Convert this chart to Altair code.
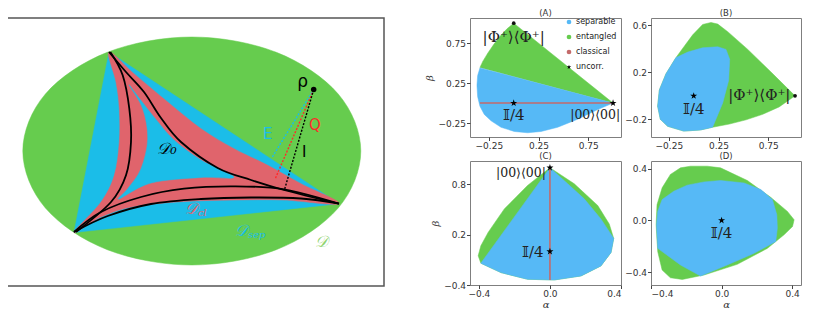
import altair as alt
import pandas as pd

# ---------------- colours ----------------
SEP = "#56b9f6"
ENT = "#66cc4e"
CLS = "#c46a6a"
L_GREEN = "#66cc4e"
L_BLUE = "#1bbde8"
L_RED = "#e0646c"

STAR = "M0,-1L0.2245,-0.309L0.951,-0.309L0.363,0.118L0.588,0.809L0,0.382L-0.588,0.809L-0.363,0.118L-0.951,-0.309L-0.2245,-0.309Z"

# ---------------- left schematic (drawing units) ----------------
ell_x = [359.8, 337.2, 275.3, 190.8, 106.3, 44.4, 21.8, 44.4, 106.3, 190.8, 275.3, 337.2]
ell_y = [149, 92, 50.3, 35, 50.3, 92, 149, 206, 247.7, 263, 247.7, 206]
tri_x = [108, 73, 338]
tri_y = [50, 230.5, 201.7]
cl_x = [108, 133, 166.7, 200, 233, 266.7, 300, 338, 283, 233, 183, 133, 100, 73, 100, 113.3, 118.3, 118.3, 115]
cl_y = [50, 71.7, 100, 126.7, 146.7, 163.3, 181.7, 201.7, 198, 198, 199.5, 204.5, 215, 230.5, 200, 173.3, 140, 106.7, 80]
in_x = [128.3, 141.7, 146.7, 140, 126.7, 118, 150, 200, 233, 200, 173, 153, 135]
in_y = [83.3, 106.7, 136.7, 166.7, 186.7, 197, 181, 175.5, 175, 158, 138, 115, 92]
top_curve_x = [108, 125, 143, 160, 180, 216.7, 250, 283, 338]
top_curve_y = [50, 70, 90, 116, 140, 166, 178, 188, 201.7]
left_curve_x = [109.3, 121.7, 128.3, 130, 125, 110, 75]
left_curve_y = [50, 73.3, 106.7, 140, 173.3, 200, 230]
bot1_x = [73, 100, 140, 183, 233, 283, 338]
bot1_y = [230, 210, 195, 186.7, 184.3, 187.3, 201.7]
bot2_x = [73, 106.7, 150, 200, 250, 300, 338]
bot2_y = [230, 214, 202, 197, 195.5, 196.5, 201.7]
rho = (312.7, 87.5)
dash_names = ["E", "Q", "I"]
dash_end_x = [270.7, 274, 283.3]
dash_end_y = [156, 177.3, 188.3]
dash_colors = [L_BLUE, "#ff2a2a", "#000000"]
stxt = ["ρ", "E", "Q", "I"]
stxt_x = [301.7, 266.7, 314, 303.3]
stxt_y = [80, 131.7, 123.3, 150]
stxt_c = ["#000000", L_BLUE, "#ff2a2a", "#000000"]
stxt_s = [17, 15, 15, 15]
ltxt = ["𝒟₀", "𝒟", "𝒟", "𝒟"]
ltxt_x = [166, 190, 240, 320]
ltxt_y = [146.7, 207, 229, 240]
ltxt_c = ["#000000", L_RED, L_BLUE, "#8fd46f"]
lsub = ["cl", "sep"]
lsub_x = [197, 247]
lsub_y = [211, 233]
lsub_c = [L_RED, L_BLUE]

# ---------------- panel A ----------------
A_green_x = [0, -0.067, -0.135, -0.20, -0.26, -0.31, -0.34, 1.0]
A_green_y = [1.0, 0.93, 0.84, 0.735, 0.627, 0.525, 0.445, 0.0]
A_blue_x = [-0.34, -0.363, -0.37, -0.363, -0.34, -0.296, -0.228, -0.128, 0.006, 0.14, 0.275, 0.443, 0.644, 0.846, 1.0]
A_blue_y = [0.44, 0.344, 0.222, 0.08, -0.04, -0.142, -0.222, -0.303, -0.356, -0.372, -0.356, -0.303, -0.202, -0.081, 0.0]
A_cls_x = [-0.34, 1.0]
A_cls_y = [0.0, 0.0]
A_star_x = [0.0, 1.0]
A_star_y = [0.0, 0.0]
A_dot_x = [0.0]
A_dot_y = [1.0]
A_lab = ["|Φ⁺⟩⟨Φ⁺|", "𝕀/4", "|00⟩⟨00|"]
A_lab_x = [0.0, 0.0, 0.82]
A_lab_y = [0.83, -0.145, -0.145]
A_lab_s = [15, 15, 12.5]

# ---------------- panel B ----------------
B_green_x = [1.02, 0.778, 0.544, 0.342, 0.242, 0.174, 0.09, -0.01, -0.095, -0.178, -0.279, -0.346, -0.363, -0.336, -0.262, -0.1, 0.07, 0.19, 0.359, 0.527, 0.695, 0.86]
B_green_y = [0.0, 0.202, 0.395, 0.546, 0.61, 0.624, 0.607, 0.519, 0.422, 0.326, 0.188, 0.05, -0.088, -0.199, -0.259, -0.30, -0.29, -0.267, -0.24, -0.204, -0.157, -0.094]
B_blue_x = [-0.178, -0.06, 0.09, 0.242, 0.325, 0.362, 0.352, 0.292, 0.19, 0.07, -0.1, -0.262, -0.336, -0.363, -0.346, -0.279]
B_blue_y = [0.326, 0.372, 0.409, 0.417, 0.395, 0.312, 0.132, -0.06, -0.267, -0.29, -0.30, -0.259, -0.199, -0.088, 0.05, 0.188]
B_star_x = [0.0]
B_star_y = [0.0]
B_dot_x = [1.02]
B_dot_y = [0.0]
B_lab = ["|Φ⁺⟩⟨Φ⁺|", "𝕀/4"]
B_lab_x = [0.66, 0.0]
B_lab_y = [0.01, -0.116]
B_lab_s = [15, 15]

# ---------------- panel C ----------------
C_green_x = [0, 0.137, 0.269, 0.334, 0.359, 0.344, 0.287, 0.175, 0.024, -0.126, -0.276, -0.389, -0.404, -0.389, -0.348, -0.257, -0.126]
C_green_y = [1.0, 0.808, 0.549, 0.328, 0.156, -0.012, -0.172, -0.292, -0.34, -0.332, -0.252, -0.14, -0.052, 0.068, 0.228, 0.508, 0.788]
C_blue_x = [0, 0.1, 0.193, 0.287, 0.359, 0.344, 0.287, 0.175, 0.024, -0.126, -0.276, -0.389]
C_blue_y = [1.0, 0.808, 0.628, 0.388, 0.156, -0.012, -0.172, -0.292, -0.34, -0.332, -0.252, -0.14]
C_cls_x = [0.0, 0.0]
C_cls_y = [1.0, -0.34]
C_star_x = [0.0, 0.0]
C_star_y = [1.0, 0.0]
C_lab = ["|00⟩⟨00|", "𝕀/4"]
C_lab_x = [-0.163, -0.097]
C_lab_y = [0.94, -0.012]
C_lab_s = [12.5, 15]

# ---------------- panel D ----------------
D_green_x = [-0.176, -0.081, -0.006, 0.146, 0.278, 0.373, 0.411, 0.402, 0.354, 0.26, 0.089, -0.1, -0.223, -0.29, -0.337, -0.362, -0.371, -0.366, -0.337, -0.29, -0.233]
D_green_y = [0.42, 0.42, 0.407, 0.309, 0.179, 0.07, 0.005, -0.047, -0.111, -0.216, -0.34, -0.423, -0.457, -0.444, -0.384, -0.241, -0.034, 0.122, 0.252, 0.356, 0.407]
D_blue_x = [-0.337, -0.271, -0.195, -0.1, -0.006, 0.127, 0.222, 0.288, 0.313, 0.316, 0.307, 0.184, 0.032, -0.119, -0.233, -0.362, -0.369, -0.362]
D_blue_y = [0.161, 0.226, 0.273, 0.298, 0.309, 0.29, 0.239, 0.161, 0.044, -0.06, -0.164, -0.255, -0.345, -0.431, -0.345, -0.216, -0.034, 0.07]
D_star_x = [0.0]
D_star_y = [0.0]
D_lab = ["𝕀/4"]
D_lab_x = [0.0]
D_lab_y = [-0.1]
D_lab_s = [15]

legend_names = ["separable", "entangled", "classical", "uncorr."]
legend_colors = [SEP, ENT, CLS, "#000000"]
legend_shapes = ["circle", "circle", "circle", STAR]
legend_sizes = [22, 22, 22, 60]

MATH_FONT = "DejaVu Serif"


def frame(xs, ys):
    return pd.DataFrame({"x": xs, "y": ys, "i": list(range(len(xs)))})


def panel(xdom, xticks, xfmt, xtitle, ydom, yticks, yfmt, ytitle, w, h, title, title_gap,
          polys, lines, stars, dots, labels, legend=False):
    X = alt.X("x:Q", scale=alt.Scale(domain=xdom, nice=False, zero=False),
              axis=alt.Axis(values=xticks, format=xfmt, title=xtitle, titlePadding=1))
    Y = alt.Y("y:Q", scale=alt.Scale(domain=ydom, nice=False, zero=False),
              axis=alt.Axis(values=yticks, format=yfmt, title=ytitle))
    layers = []
    for xs, ys, col in polys:
        layers.append(alt.Chart(frame(xs, ys)).mark_line(
            interpolate="linear-closed", fill=col, stroke=col, strokeWidth=0.5, clip=True
        ).encode(x=X, y=Y, order="i:Q"))
    for xs, ys in lines:
        layers.append(alt.Chart(frame(xs, ys)).mark_line(color=CLS, strokeWidth=1.6).encode(x=X, y=Y, order="i:Q"))
    if dots is not None:
        layers.append(alt.Chart(frame(*dots)).mark_point(shape="circle", filled=True, color="#111", size=14, opacity=1).encode(x=X, y=Y))
    if stars is not None:
        layers.append(alt.Chart(frame(*stars)).mark_point(shape=STAR, filled=True, color="#000", size=55, opacity=1).encode(x=X, y=Y))
    txt, tx, ty, ts = labels
    layers.append(alt.Chart(pd.DataFrame({"t": txt, "x": tx, "y": ty, "s": ts})).mark_text(
        font=MATH_FONT, color="#222").encode(x=X, y=Y, text="t:N", size=alt.Size("s:Q", scale=None)))
    # panel title, drawn just above the frame
    layers.append(alt.Chart(pd.DataFrame({"t": [title]})).mark_text(
        font="DejaVu Sans", fontSize=8.5, color="#333", baseline="bottom").encode(
        x=alt.value(w / 2), y=alt.value(-title_gap), text="t:N"))
    if legend:
        ld = pd.DataFrame({"name": legend_names})
        leg = alt.Legend(title=None, orient="none", legendX=94, legendY=-1, labelFontSize=8,
                         symbolOpacity=1, rowPadding=3.0, labelOffset=3,
                         labelFont="DejaVu Sans", labelColor="#222", padding=1)
        layers.append(alt.Chart(ld).mark_point(filled=True, opacity=0).encode(
            x=alt.value(0), y=alt.value(0),
            color=alt.Color("name:N", scale=alt.Scale(domain=legend_names, range=legend_colors), legend=leg),
            shape=alt.Shape("name:N", scale=alt.Scale(domain=legend_names, range=legend_shapes), legend=leg),
            size=alt.Size("name:N", scale=alt.Scale(domain=legend_names, range=legend_sizes), legend=leg)))
    return alt.layer(*layers).properties(width=w, height=h)


A = panel([-0.44, 1.08], [-0.25, 0.25, 0.75], ".2f", None,
          [-0.425, 1.065], [-0.25, 0.25, 0.75], ".2f", "β", 151, 119, "(A)", 0,
          [(A_green_x, A_green_y, ENT), (A_blue_x, A_blue_y, SEP)],
          [(A_cls_x, A_cls_y)], (A_star_x, A_star_y), (A_dot_x, A_dot_y),
          (A_lab, A_lab_x, A_lab_y, A_lab_s), legend=True)
B = panel([-0.43, 1.08], [-0.25, 0.25, 0.75], ".2f", None,
          [-0.35, 0.662], [-0.2, 0.2, 0.6], ".1f", None, 150, 119, "(B)", 0,
          [(B_green_x, B_green_y, ENT), (B_blue_x, B_blue_y, SEP)],
          [], (B_star_x, B_star_y), (B_dot_x, B_dot_y), (B_lab, B_lab_x, B_lab_y, B_lab_s))
C = panel([-0.45, 0.4], [-0.4, 0.0, 0.4], ".1f", "α",
          [-0.4, 1.08], [-0.4, 0.2, 0.8], ".1f", "β", 151, 124, "(C)", 0,
          [(C_green_x, C_green_y, ENT), (C_blue_x, C_blue_y, SEP)],
          [(C_cls_x, C_cls_y)], (C_star_x, C_star_y), None, (C_lab, C_lab_x, C_lab_y, C_lab_s))
D = panel([-0.4, 0.45], [-0.4, 0.0, 0.4], ".1f", "α",
          [-0.5, 0.46], [-0.4, 0.0, 0.4], ".1f", None, 150, 124, "(D)", 0,
          [(D_green_x, D_green_y, ENT), (D_blue_x, D_blue_y, SEP)],
          [], (D_star_x, D_star_y), None, (D_lab, D_lab_x, D_lab_y, D_lab_s))

# ---------------- left schematic chart ----------------
LX = alt.X("x:Q", scale=alt.Scale(domain=[0, 383], nice=False, zero=False), axis=None)
LY = alt.Y("y:Q", scale=alt.Scale(domain=[16, 284], nice=False, zero=False, reverse=True), axis=None)


def lpoly(xs, ys, col, interp="linear-closed"):
    return alt.Chart(frame(xs, ys)).mark_line(interpolate=interp, fill=col, stroke=col, strokeWidth=0.5).encode(
        x=LX, y=LY, order="i:Q")


def lcurve(xs, ys):
    return alt.Chart(frame(xs, ys)).mark_line(interpolate="cardinal", color="#000", strokeWidth=1.8).encode(
        x=LX, y=LY, order="i:Q")


dash_rows = []
for n, ex, ey, c in zip(dash_names, dash_end_x, dash_end_y, dash_colors):
    dash_rows.append({"n": n, "x": rho[0], "y": rho[1], "i": 0, "c": c})
    dash_rows.append({"n": n, "x": ex, "y": ey, "i": 1, "c": c})
dash_df = pd.DataFrame(dash_rows)

left_layers = [
    lpoly(ell_x, ell_y, L_GREEN, "cardinal-closed"),
    lpoly(tri_x, tri_y, L_BLUE),
    lpoly(cl_x, cl_y, L_RED, "cardinal-closed"),
    lpoly(in_x, in_y, L_BLUE, "cardinal-closed"),
    lcurve(top_curve_x, top_curve_y),
    lcurve(left_curve_x, left_curve_y),
    lcurve(bot1_x, bot1_y),
    lcurve(bot2_x, bot2_y),
    alt.Chart(dash_df).mark_line(strokeDash=[2, 1.5], strokeWidth=1.4).encode(
        x=LX, y=LY, order="i:Q", detail="n:N",
        color=alt.Color("c:N", scale=None)),
    alt.Chart(frame([rho[0]], [rho[1]])).mark_point(filled=True, color="#000", size=30, opacity=1).encode(x=LX, y=LY),
    alt.Chart(pd.DataFrame({"t": stxt, "x": stxt_x, "y": stxt_y, "c": stxt_c, "s": stxt_s})).mark_text(
        font="DejaVu Sans").encode(
        x=LX, y=LY, text="t:N", color=alt.Color("c:N", scale=None),
        size=alt.Size("s:Q", scale=None)),
    alt.Chart(pd.DataFrame({"t": ltxt, "x": ltxt_x, "y": ltxt_y, "c": ltxt_c})).mark_text(
        font="DejaVu Serif", fontStyle="italic", fontSize=16).encode(
        x=LX, y=LY, text="t:N", color=alt.Color("c:N", scale=None)),
    alt.Chart(pd.DataFrame({"t": lsub, "x": lsub_x, "y": lsub_y, "c": lsub_c})).mark_text(
        font="DejaVu Serif", fontStyle="italic", fontSize=10, align="left").encode(
        x=LX, y=LY, text="t:N", color=alt.Color("c:N", scale=None)),
]
left = alt.layer(*left_layers).properties(
    width=383, height=268, view=alt.ViewBackground(stroke="#555", strokeWidth=1.5))

grid = alt.concat(A, B, C, D, columns=2, bounds="flush", spacing={"row": 24, "column": 30})
chart = alt.hconcat(left, grid, spacing=86, bounds="flush").properties(
    padding={"left": -8, "top": 0, "right": 0, "bottom": 0}
).configure_view(stroke="#7f7f7f", strokeWidth=1).configure_axis(
    domain=False, grid=False, labelFont="DejaVu Sans", labelFontSize=9, labelColor="#333",
    tickColor="#444", tickSize=3.5, labelPadding=1,
    titleFont="DejaVu Serif", titleFontStyle="italic", titleFontWeight="normal", titleFontSize=10,
    titleColor="#333", titlePadding=3
).resolve_scale(color="independent", shape="independent", size="independent")

chart.save("out.html", embed_options={"renderer": "svg", "actions": False})
